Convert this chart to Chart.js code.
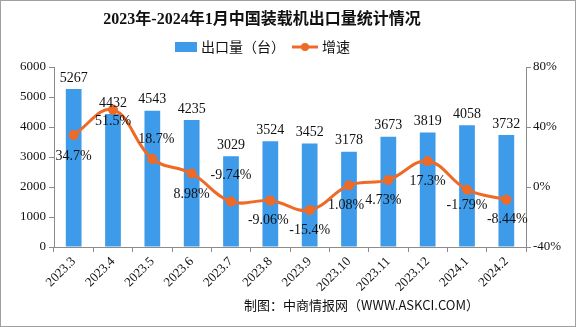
<!DOCTYPE html>
<html>
<head>
<meta charset="utf-8">
<script src="https://cdn.jsdelivr.net/npm/chart.js@4"></script>
<style>
  html, body { margin: 0; padding: 0; background: #fff; }
  #wrap { width: 576px; height: 327px; }
</style>
</head>
<body>
<div id="wrap"><canvas id="chart1" width="576" height="327"></canvas></div>
<script>
const months = ["2023.3", "2023.4", "2023.5", "2023.6", "2023.7", "2023.8",
  "2023.9", "2023.10", "2023.11", "2023.12", "2024.1", "2024.2"];
const exportUnits = [5267, 4432, 4543, 4235, 3029, 3524, 3452, 3178, 3673, 3819, 4058, 3732];
const growthPct = [34.7, 51.5, 18.7, 8.98, -9.74, -9.06, -15.4, 1.08, 4.73, 17.3, -1.79, -8.44];
const unitTicks = [0, 1000, 2000, 3000, 4000, 5000, 6000];
const pctTicks = [-40, 0, 40, 80];

const BLUE = "#3d9bea";
const ORANGE = "#ef6a26";
const FONT = "'Liberation Serif', 'Noto Sans CJK SC', serif";
const CJK = "'Noto Sans CJK SC', sans-serif";

// where each growth label sits relative to its point (dx, dy)
const pctLabelOffset = [
  [0, 21], [0, 12], [4, -20], [0, 21], [0, -26], [-2, 20],
  [0, 20], [-3, 20], [-5, 20], [0, 20], [0, 16], [1, 20]
];

const decorPlugin = {
  id: "decor",
  afterDraw(chart) {
    const c = chart.ctx;
    c.save();
    // title
    c.fillStyle = "#111";
    c.textAlign = "center";
    c.textBaseline = "middle";
    c.font = "bold 16px " + FONT;
    c.fillText("2023年-2024年1月中国装载机出口量统计情况", 262, 20);

    // legend
    c.fillStyle = BLUE;
    c.fillRect(175, 42, 22, 10);
    c.fillStyle = "#111";
    c.textAlign = "left";
    c.font = "14px " + CJK;
    c.fillText("出口量（台）", 201, 47);
    c.strokeStyle = ORANGE;
    c.lineWidth = 3;
    c.beginPath();
    c.moveTo(292, 47);
    c.lineTo(318, 47);
    c.stroke();
    c.fillStyle = ORANGE;
    c.beginPath();
    c.arc(305, 47, 4, 0, Math.PI * 2);
    c.fill();
    c.fillStyle = "#111";
    c.fillText("增速", 322, 47);

    // footer
    c.font = "13px " + CJK;
    c.textAlign = "right";
    c.fillText("制图：中商情报网（WWW.ASKCI.COM）", 479, 305);

    // frame
    c.strokeStyle = "#a0a0a0";
    c.lineWidth = 1;
    c.strokeRect(0.5, 0.5, 575, 326);
    c.restore();
  }
};

const valueLabelPlugin = {
  id: "valueLabels",
  afterDatasetsDraw(chart) {
    const c = chart.ctx;
    c.save();
    c.fillStyle = "#111";
    c.textAlign = "center";
    c.textBaseline = "middle";
    c.font = "14px " + FONT;
    chart.getDatasetMeta(0).data.forEach((bar, i) => {
      c.fillText(String(exportUnits[i]), bar.x, bar.y - 11);
    });
    chart.getDatasetMeta(1).data.forEach((pt, i) => {
      const [dx, dy] = pctLabelOffset[i];
      c.fillText(growthPct[i] + "%", pt.x + dx, pt.y + dy);
    });
    c.restore();
  }
};

const axisGrid = {
  drawOnChartArea: false,
  drawTicks: true,
  tickLength: 5,
  color: "#8c8c8c"
};

new Chart(document.getElementById("chart1"), {
  type: "bar",
  data: {
    labels: months,
    datasets: [
      {
        type: "bar",
        label: "出口量（台）",
        data: exportUnits,
        backgroundColor: BLUE,
        barPercentage: 0.4,
        categoryPercentage: 1,
        yAxisID: "y",
        order: 2
      },
      {
        type: "line",
        label: "增速",
        data: growthPct,
        borderColor: ORANGE,
        backgroundColor: ORANGE,
        borderWidth: 3,
        tension: 0.4,
        pointRadius: 5,
        pointBorderWidth: 0,
        yAxisID: "y1",
        order: 1
      }
    ]
  },
  options: {
    responsive: false,
    animation: false,
    layout: { padding: { top: 67, right: 0, left: 0, bottom: 0 } },
    plugins: {
      legend: { display: false },
      title: { display: false },
      tooltip: { enabled: false }
    },
    scales: {
      x: {
        grid: axisGrid,
        border: { color: "#8c8c8c" },
        ticks: {
          color: "#111",
          font: { family: FONT, size: 13 },
          minRotation: 45,
          maxRotation: 45,
          padding: 2
        },
        afterFit(scale) { scale.height = 80; }
      },
      y: {
        position: "left",
        min: 0,
        max: 6000,
        afterBuildTicks(scale) { scale.ticks = unitTicks.map(v => ({ value: v })); },
        grid: axisGrid,
        border: { color: "#8c8c8c" },
        ticks: {
          color: "#111",
          font: { family: FONT, size: 13 },
          padding: 3,
          callback: v => String(v)
        },
        afterFit(scale) { scale.width = 54; }
      },
      y1: {
        position: "right",
        min: -40,
        max: 80,
        afterBuildTicks(scale) { scale.ticks = pctTicks.map(v => ({ value: v })); },
        grid: axisGrid,
        border: { color: "#8c8c8c" },
        ticks: {
          color: "#111",
          font: { family: FONT, size: 13 },
          padding: 2,
          callback: v => v + "%"
        },
        afterFit(scale) { scale.width = 50; }
      }
    }
  },
  plugins: [valueLabelPlugin, decorPlugin]
});
</script>
</body>
</html>
